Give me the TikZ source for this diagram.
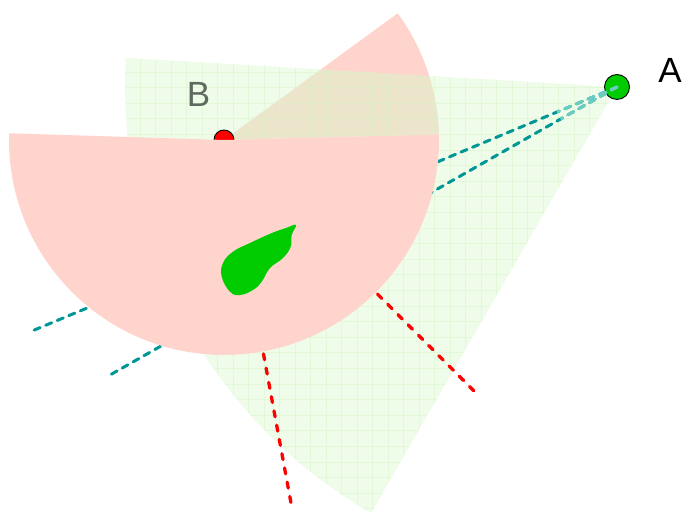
\documentclass[tikz,border=0pt]{standalone}
\usepackage{fontspec}
\setmainfont{Liberation Sans}
\usetikzlibrary{calc}
\definecolor{pinkfill}{RGB}{255,212,204}
\definecolor{greenfill}{RGB}{217,248,206}
\definecolor{gridgreen}{RGB}{215,246,200}
\definecolor{tealc}{RGB}{0,150,150}
\definecolor{paleteal}{RGB}{110,205,195}
\definecolor{blobgreen}{RGB}{0,204,0}
\definecolor{labelgray}{RGB}{95,105,95}
\tikzset{
  tealdash/.style={draw=tealc, line width=3pt, line cap=round, dash pattern=on 6.5pt off 6pt},
  reddash/.style={draw=red, line width=3.3pt, line cap=round, dash pattern=on 6pt off 8.5pt},
  dot/.style={circle, draw=black, line width=0.9pt, inner sep=0pt, minimum size=#1},
  lbl/.style={font=\fontsize{35}{40}\selectfont, inner sep=0pt},
}
\begin{document}
\begin{tikzpicture}[x=1pt,y=1pt]
\useasboundingbox (0,0) rectangle (686,518);
\coordinate (Ac) at (617,431);
\coordinate (Bc) at (224,378);
\coordinate (T1) at (32,187);
\coordinate (T2) at (110,143);
\coordinate (R1) at (291,15);
\coordinate (R2) at (476,125);
% pink upper wedge
\fill[pinkfill] (Bc) -- ++(1.5:215) arc[start angle=1.5, end angle=36.1, radius=215] -- cycle;
% green sector
\fill[greenfill, fill opacity=0.45] (Ac) -- ++(176.6:492) arc[start angle=176.6, end angle=240, radius=492] -- cycle;
\begin{scope}
  \clip (Ac) -- ++(176.6:492) arc[start angle=176.6, end angle=240, radius=492] -- cycle;
  \foreach \k in {-7,...,25} {
    \draw[gridgreen, line width=1pt, opacity=0.5] ({233.3+15.5*\k},0) -- ({233.3+15.5*\k},518);
  }
  \foreach \k in {-3,...,27} {
    \draw[gridgreen, line width=1pt, opacity=0.5] (0,{414.7-15.6*\k}) -- (686,{414.7-15.6*\k});
  }
\end{scope}
% red dashed lines from B
\draw[reddash] (Bc) -- (R1);
\draw[reddash] (Bc) -- (R2);
% teal dashed lines from A
\draw[tealdash] (Ac) -- (T1);
\draw[tealdash] (Ac) -- (T2);
% B dot
\node[dot=20pt, fill=red] (B) at (Bc) {};
% pink lower sector
\fill[pinkfill] (Bc) -- ++(178.2:215) arc[start angle=178.2, end angle=361.5, radius=215] -- cycle;
% green blob
\fill[blobgreen] plot[smooth cycle, tension=0.7] coordinates {
  (296,293) (291.7,283) (290.7,271.3) (283,260) (270,250) (261.7,236.3)
  (253,228) (240,223) (230,226.3) (221.7,241.3) (223,255) (233,266.3)
  (250,275) (272,285) (286,290)};
% B label
\node[lbl, text=labelgray] (Blabel) at (198.5,423.5) {B};
% A dot
\node[dot=25pt, fill=blobgreen] (A) at (Ac) {};
\begin{scope}
  \clip (Ac) circle (65);
  \draw[tealdash, draw=paleteal] (Ac) -- (T1);
  \draw[tealdash, draw=paleteal] (Ac) -- (T2);
\end{scope}
\node[lbl, text=black] (Alabel) at (670,447.5) {A};
\end{tikzpicture}
\end{document}
